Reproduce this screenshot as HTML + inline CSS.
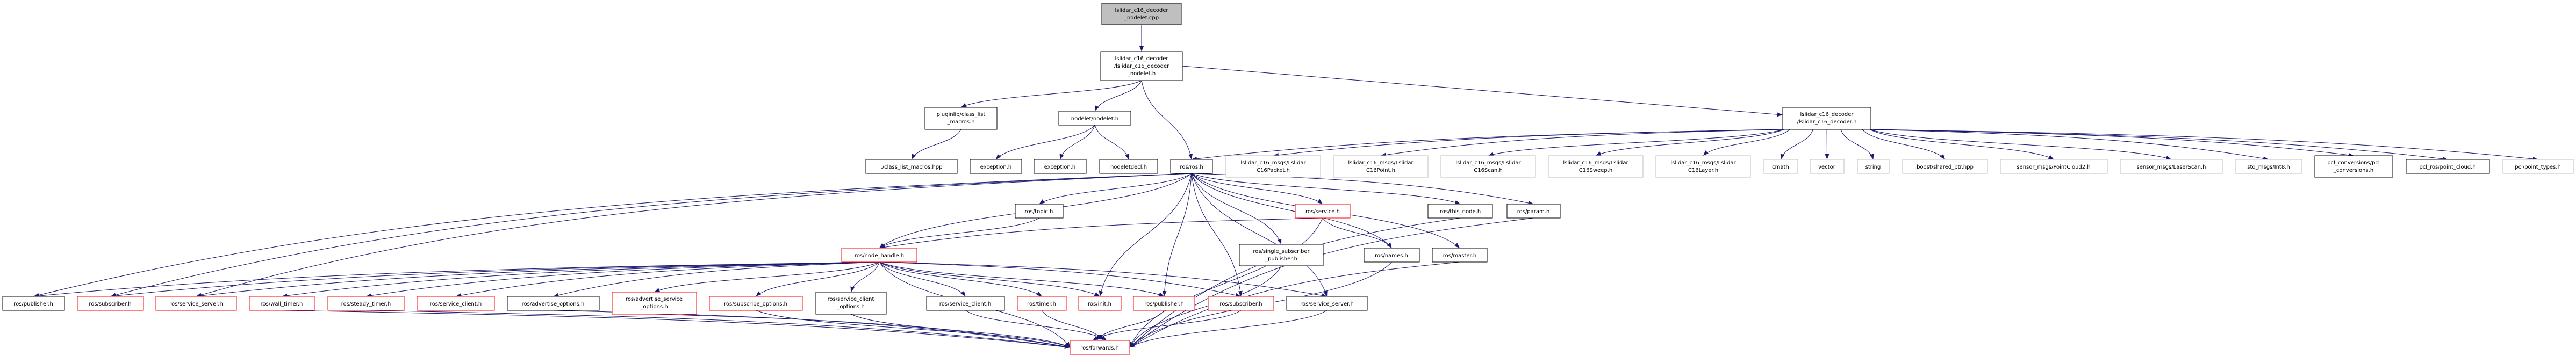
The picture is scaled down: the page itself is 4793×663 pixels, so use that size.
<!DOCTYPE html>
<html><head><meta charset="utf-8">
<style>
html,body{margin:0;padding:0;background:#fff;width:4793px;height:663px;overflow:hidden}
svg{display:block}
text{font-family:"DejaVu Sans","Liberation Sans",sans-serif;font-size:10px;fill:#000;text-anchor:middle}
</style></head><body>
<svg id="g" width="4793" height="663" viewBox="0 0 4793 663" xmlns="http://www.w3.org/2000/svg">
<defs><marker id="a" markerUnits="userSpaceOnUse" markerWidth="12" markerHeight="10" refX="10" refY="4" orient="auto"><path d="M0,0 L10,4 L0,8 z" fill="#191970"/></marker></defs>
<g id="edges" fill="none" stroke="#191970" stroke-width="1"></g>
<g id="nodes" stroke-width="1">
<rect x="2050" y="6" width="148" height="40" fill="#bfbfbf" stroke="#000"/><text x="2124" y="22">lslidar_c16_decoder</text><text x="2124" y="36">_nodelet.cpp</text>
<rect x="2048" y="96" width="152" height="54" fill="#fff" stroke="#000"/><text x="2124" y="112">lslidar_c16_decoder</text><text x="2124" y="126">/lslidar_c16_decoder</text><text x="2124" y="140">_nodelet.h</text>
<rect x="1721" y="200" width="134" height="41" fill="#fff" stroke="#000"/><text x="1788" y="216">pluginlib/class_list</text><text x="1788" y="230">_macros.h</text>
<rect x="1970" y="207" width="134" height="26" fill="#fff" stroke="#000"/><text x="2037" y="224">nodelet/nodelet.h</text>
<rect x="3317" y="200" width="164" height="41" fill="#fff" stroke="#000"/><text x="3399" y="216">lslidar_c16_decoder</text><text x="3399" y="230">/lslidar_c16_decoder.h</text>
<rect x="1611" y="297" width="170" height="26" fill="#fff" stroke="#000"/><text x="1696" y="314">./class_list_macros.hpp</text>
<rect x="1805" y="297" width="96" height="26" fill="#fff" stroke="#000"/><text x="1853" y="314">exception.h</text>
<rect x="1924" y="297" width="97" height="26" fill="#fff" stroke="#000"/><text x="1972" y="314">exception.h</text>
<rect x="2046" y="297" width="108" height="26" fill="#fff" stroke="#000"/><text x="2100" y="314">nodeletdecl.h</text>
<rect x="2178" y="297" width="78" height="26" fill="#fff" stroke="#000"/><text x="2217" y="314">ros/ros.h</text>
<rect x="2281" y="290" width="176" height="40" fill="#fff" stroke="#bfbfbf"/><text x="2369" y="306">lslidar_c16_msgs/Lslidar</text><text x="2369" y="320">C16Packet.h</text>
<rect x="2481" y="290" width="176" height="40" fill="#fff" stroke="#bfbfbf"/><text x="2569" y="306">lslidar_c16_msgs/Lslidar</text><text x="2569" y="320">C16Point.h</text>
<rect x="2681" y="290" width="176" height="40" fill="#fff" stroke="#bfbfbf"/><text x="2769" y="306">lslidar_c16_msgs/Lslidar</text><text x="2769" y="320">C16Scan.h</text>
<rect x="2881" y="290" width="176" height="40" fill="#fff" stroke="#bfbfbf"/><text x="2969" y="306">lslidar_c16_msgs/Lslidar</text><text x="2969" y="320">C16Sweep.h</text>
<rect x="3081" y="290" width="176" height="40" fill="#fff" stroke="#bfbfbf"/><text x="3169" y="306">lslidar_c16_msgs/Lslidar</text><text x="3169" y="320">C16Layer.h</text>
<rect x="3282" y="297" width="63" height="26" fill="#fff" stroke="#bfbfbf"/><text x="3313" y="314">cmath</text>
<rect x="3368" y="297" width="63" height="26" fill="#fff" stroke="#bfbfbf"/><text x="3399" y="314">vector</text>
<rect x="3456" y="297" width="59" height="26" fill="#fff" stroke="#bfbfbf"/><text x="3485" y="314">string</text>
<rect x="3540" y="297" width="158" height="26" fill="#fff" stroke="#bfbfbf"/><text x="3619" y="314">boost/shared_ptr.hpp</text>
<rect x="3722" y="297" width="199" height="26" fill="#fff" stroke="#bfbfbf"/><text x="3821" y="314">sensor_msgs/PointCloud2.h</text>
<rect x="3945" y="297" width="190" height="26" fill="#fff" stroke="#bfbfbf"/><text x="4040" y="314">sensor_msgs/LaserScan.h</text>
<rect x="4159" y="297" width="124" height="26" fill="#fff" stroke="#bfbfbf"/><text x="4221" y="314">std_msgs/Int8.h</text>
<rect x="4307" y="290" width="145" height="40" fill="#fff" stroke="#000"/><text x="4379" y="306">pcl_conversions/pcl</text><text x="4379" y="320">_conversions.h</text>
<rect x="4477" y="297" width="155" height="26" fill="#fff" stroke="#000"/><text x="4554" y="314">pcl_ros/point_cloud.h</text>
<rect x="4657" y="297" width="131" height="26" fill="#fff" stroke="#bfbfbf"/><text x="4722" y="314">pcl/point_types.h</text>
<rect x="1889" y="380" width="89" height="26" fill="#fff" stroke="#000"/><text x="1933" y="397">ros/topic.h</text>
<rect x="2410" y="380" width="102" height="26" fill="#fff" stroke="#f00"/><text x="2461" y="397">ros/service.h</text>
<rect x="2657" y="380" width="120" height="26" fill="#fff" stroke="#000"/><text x="2717" y="397">ros/this_node.h</text>
<rect x="2804" y="380" width="99" height="26" fill="#fff" stroke="#000"/><text x="2853" y="397">ros/param.h</text>
<rect x="1566" y="462" width="140" height="26" fill="#fff" stroke="#f00"/><text x="1636" y="479">ros/node_handle.h</text>
<rect x="2306" y="455" width="156" height="40" fill="#fff" stroke="#000"/><text x="2384" y="471">ros/single_subscriber</text><text x="2384" y="485">_publisher.h</text>
<rect x="2538" y="462" width="103" height="26" fill="#fff" stroke="#000"/><text x="2589" y="479">ros/names.h</text>
<rect x="2665" y="462" width="102" height="26" fill="#fff" stroke="#000"/><text x="2716" y="479">ros/master.h</text>
<rect x="5" y="552" width="115" height="26" fill="#fff" stroke="#000"/><text x="62" y="569">ros/publisher.h</text>
<rect x="144" y="552" width="123" height="26" fill="#fff" stroke="#f00"/><text x="205" y="569">ros/subscriber.h</text>
<rect x="290" y="552" width="150" height="26" fill="#fff" stroke="#f00"/><text x="365" y="569">ros/service_server.h</text>
<rect x="464" y="552" width="121" height="26" fill="#fff" stroke="#f00"/><text x="524" y="569">ros/wall_timer.h</text>
<rect x="610" y="552" width="142" height="26" fill="#fff" stroke="#f00"/><text x="681" y="569">ros/steady_timer.h</text>
<rect x="776" y="552" width="144" height="26" fill="#fff" stroke="#f00"/><text x="848" y="569">ros/service_client.h</text>
<rect x="944" y="552" width="171" height="26" fill="#fff" stroke="#000"/><text x="1029" y="569">ros/advertise_options.h</text>
<rect x="1139" y="544" width="157" height="41" fill="#fff" stroke="#f00"/><text x="1217" y="560">ros/advertise_service</text><text x="1217" y="574">_options.h</text>
<rect x="1320" y="552" width="173" height="26" fill="#fff" stroke="#f00"/><text x="1406" y="569">ros/subscribe_options.h</text>
<rect x="1518" y="544" width="131" height="41" fill="#fff" stroke="#000"/><text x="1583" y="560">ros/service_client</text><text x="1583" y="574">_options.h</text>
<rect x="1724" y="552" width="145" height="26" fill="#fff" stroke="#000"/><text x="1796" y="569">ros/service_client.h</text>
<rect x="1893" y="552" width="91" height="26" fill="#fff" stroke="#f00"/><text x="1938" y="569">ros/timer.h</text>
<rect x="2007" y="552" width="79" height="26" fill="#fff" stroke="#f00"/><text x="2046" y="569">ros/init.h</text>
<rect x="2109" y="552" width="114" height="26" fill="#fff" stroke="#f00"/><text x="2166" y="569">ros/publisher.h</text>
<rect x="2248" y="552" width="122" height="26" fill="#fff" stroke="#f00"/><text x="2309" y="569">ros/subscriber.h</text>
<rect x="2394" y="552" width="150" height="26" fill="#fff" stroke="#000"/><text x="2469" y="569">ros/service_server.h</text>
<rect x="1991" y="634" width="111" height="26" fill="#fff" stroke="#f00"/><text x="2046" y="651">ros/forwards.h</text>
</g>
</svg>
<script>
var N={root:[2050,6,148,40],n1:[2048,96,152,54],P:[1721,200,134,41],NN:[1970,207,134,26],D:[3317,200,164,41],
CLM:[1611,297,170,26],E1:[1805,297,96,26],E2:[1924,297,97,26],ND:[2046,297,108,26],ROS:[2178,297,78,26],
g1:[2281,290,176,40],g2:[2481,290,176,40],g3:[2681,290,176,40],g4:[2881,290,176,40],g5:[3081,290,176,40],
cm:[3282,297,63,26],ve:[3368,297,63,26],st:[3456,297,59,26],bo:[3540,297,158,26],pc2:[3722,297,199,26],ls:[3945,297,190,26],i8:[4159,297,124,26],pcv:[4307,290,145,40],pr:[4477,297,155,26],pt:[4657,297,131,26],
topic:[1889,380,89,26],svc:[2410,380,102,26],tn:[2657,380,120,26],par:[2804,380,99,26],
NH:[1566,462,140,26],SSP:[2306,455,156,40],nam:[2538,462,103,26],mas:[2665,462,102,26],
pub:[5,552,115,26],sub:[144,552,123,26],ss:[290,552,150,26],wt:[464,552,121,26],stt:[610,552,142,26],sc:[776,552,144,26],ao:[944,552,171,26],aso:[1139,544,157,41],so:[1320,552,173,26],sco:[1518,544,131,41],sc2:[1724,552,145,26],tim:[1893,552,91,26],ini:[2007,552,79,26],pub2:[2109,552,114,26],sub2:[2248,552,122,26],ss2:[2394,552,150,26],fwd:[1991,634,111,26]};
var E=[["root","n1"],["n1","P"],["n1","NN"],["n1","ROS"],["n1","D"],["P","CLM"],["NN","E1"],["NN","E2"],["NN","ND"],
["D","ROS"],["D","g1"],["D","g2"],["D","g3"],["D","g4"],["D","g5"],["D","cm"],["D","ve"],["D","st"],["D","bo"],["D","pc2"],["D","ls"],["D","i8"],["D","pcv"],["D","pr"],["D","pt"],
["ROS","pub"],["ROS","sub"],["ROS","ss"],["ROS","NH"],["ROS","topic"],["ROS","svc"],["ROS","tn"],["ROS","par"],["ROS","SSP"],["ROS","nam"],["ROS","mas"],["ROS","ini"],["ROS","pub2"],["ROS","sub2"],["ROS","ss2"],
["topic","NH"],["svc","NH"],["svc","nam"],["svc","fwd"],
["NH","pub"],["NH","sub"],["NH","ss"],["NH","wt"],["NH","stt"],["NH","sc"],["NH","ao"],["NH","aso"],["NH","so"],["NH","sco"],["NH","sc2"],["NH","tim"],["NH","ini"],["NH","pub2"],["NH","sub2"],["NH","ss2"],["NH","fwd"],
["tn","fwd"],["par","fwd"],["SSP","fwd"],["nam","fwd"],["mas","fwd"],
["wt","fwd"],["stt","fwd"],["ao","fwd"],["aso","fwd"],["so","fwd"],["sco","fwd"],["sc2","fwd"],["tim","fwd"],["ini","fwd"],["pub2","fwd"],["sub2","fwd"],["ss2","fwd"]];
var g=document.getElementById("edges"),s="";
E.forEach(function(e){var a=N[e[0]],b=N[e[1]];
var sx=a[0]+a[2]/2,sy=a[1]+a[3],tx=b[0]+b[2]/2,ty=b[1];
if(e[1]=="D"){sx=a[0]+a[2];sy=a[1]+a[3]/2;tx=b[0];ty=b[1]+14;s+='<path d="M'+sx+','+sy+' L'+tx+','+ty+'" marker-end="url(#a)"/>';return;}
if(e[0]=="D"){var f=(tx-sx);sx=sx+Math.max(-80,Math.min(80,f*0.3));}
if(e[1]=="fwd"){var dx=tx-sx;tx=tx+Math.max(-45,Math.min(45,dx*0.05));ty=b[1]+(Math.abs(dx)>300?13:0);
 if(Math.abs(dx)>300){tx=(dx>0?b[0]:b[0]+b[2]);}}
var dy=ty-sy,dx2=tx-sx;
var c1x=sx+dx2*0.15,c1y=sy+dy*0.5,c2x=tx-dx2*0.15,c2y=ty-dy*0.5;
if(Math.abs(dx2)>600){c1x=sx+dx2*0.4;c1y=sy+dy*0.15;c2x=tx-dx2*0.3;c2y=ty-dy*0.7;}
s+='<path d="M'+sx+','+sy+' C'+c1x+','+c1y+' '+c2x+','+c2y+' '+tx+','+ty+'" marker-end="url(#a)"/>';});
g.innerHTML=s;
</script>
</body></html>
